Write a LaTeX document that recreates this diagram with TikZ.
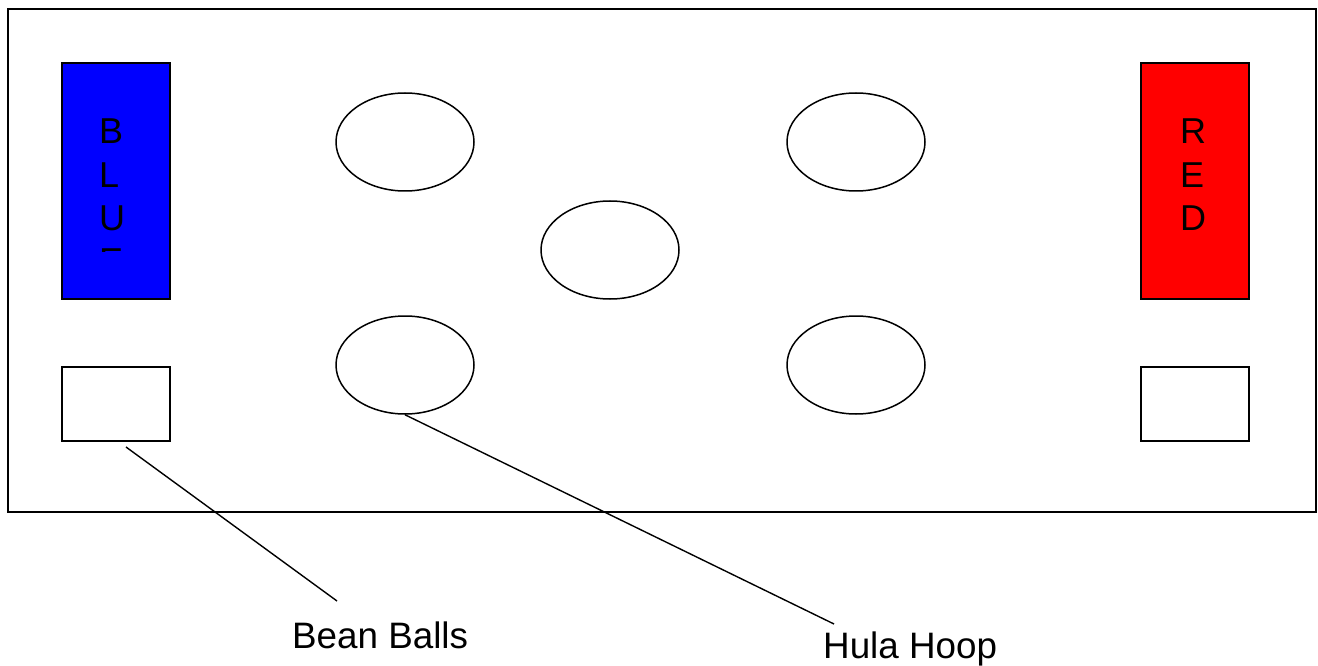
\documentclass[tikz,border=0pt]{standalone}
\usepackage{fontspec}
\setmainfont{Liberation Sans}
\usetikzlibrary{shapes.geometric}
\begin{document}
\begin{tikzpicture}[x=1pt,y=-1pt,
  line/.style={draw=black,line width=1.4pt},
  box/.style={draw=black,line width=1.6pt,rectangle,inner sep=0pt,anchor=north west},
  hoop/.style={draw=black,line width=1.5pt,ellipse,inner sep=0pt,minimum width=138pt,minimum height=98pt},
  letter/.style={inner sep=0pt,anchor=base west,font=\fontsize{36}{42}\selectfont},
  label/.style={inner sep=0pt,anchor=base west,font=\fontsize{36.8}{42}\selectfont}]
\useasboundingbox (0,0) rectangle (1318,666);
\fill[white] (0,0) rectangle (1318,666);
% field
\node[box,minimum width=1308pt,minimum height=503pt] (field) at (7,8) {};
% team zones
\node[box,fill={rgb,255:red,0;green,0;blue,255},minimum width=108pt,minimum height=236pt] (blue) at (61,62) {};
\node[box,fill={rgb,255:red,255;green,0;blue,0},minimum width=108pt,minimum height=236pt] (red) at (1140,62) {};
\node[letter] (b1) at (99,144) {B};
\node[letter] (b2) at (99,187) {L};
\node[letter] (b3) at (99,230) {U};
\begin{scope}
\clip (61,240) rectangle (169,251);
\node[letter] (b4) at (99,273) {E};
\end{scope}
\node[letter] (r1) at (1180,144) {R};
\node[letter] (r2) at (1180,187) {E};
\node[letter] (r3) at (1180,230) {D};
% bean ball boxes
\node[box,minimum width=108pt,minimum height=74pt] (bbl) at (61,366) {};
\node[box,minimum width=108pt,minimum height=74pt] (bbr) at (1140,366) {};
% hoops
\node[hoop] (h1) at (405,142) {};
\node[hoop] (h2) at (856,142) {};
\node[hoop] (h3) at (610,250) {};
\node[hoop] (h4) at (405,365) {};
\node[hoop] (h5) at (856,365) {};
% labels
\node[label] (bean) at (292,648) {Bean Balls};
\node[label] (hula) at (823,658) {Hula Hoop};
\coordinate (beanstart) at (126,447);
\coordinate (beanend) at (337,601);
\coordinate (hulaend) at (834,624);
\draw[line] (beanstart) -- (beanend);
\draw[line] (h4.south) -- (hulaend);
\end{tikzpicture}
\end{document}
